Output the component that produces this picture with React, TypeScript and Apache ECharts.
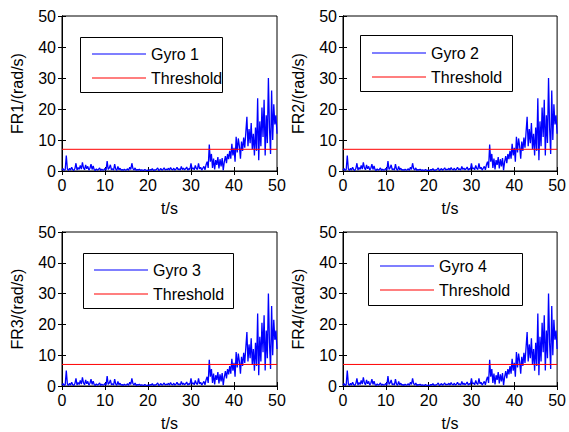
import React, { useEffect, useRef } from "react";
import * as echarts from "echarts";

const TIME_STEP = 0.25;
const thresholdValue = 7;
const yAxisNames = ["FR1/(rad/s)", "FR2/(rad/s)", "FR3/(rad/s)", "FR4/(rad/s)"];
const gyroNames = ["Gyro 1", "Gyro 2", "Gyro 3", "Gyro 4"];
const xAxisName = "t/s";

// gyro response, sampled every 0.25 s from 0 to 50 s
const gyroValues = [
  0.3, 0.8, 0.2, 0.5, 5.0, 0.6, 0.2, 0.9, 0.3, 1.2, 0.4, 0.2, 0.8, 2.5, 0.3, 1.1, 0.5, 1.8, 0.6, 2.8,
  1.0, 0.4, 2.0, 0.7, 1.5, 0.3, 0.9, 2.2, 0.5, 1.6, 0.4, 0.2, 0.7, 0.3, 0.5, 1.0, 0.2, 0.6, 0.3, 0.4,
  0.8, 0.3, 3.2, 0.5, 1.0, 2.0, 0.4, 0.7, 0.3, 2.2, 0.6, 0.2, 1.5, 0.4, 0.9, 0.3, 0.5, 0.2, 0.6, 0.3,
  0.4, 0.7, 0.2, 1.2, 0.5, 2.5, 0.8, 0.3, 1.0, 0.2, 0.5, 0.3, 0.6, 0.2, 0.4, 0.3, 0.2, 0.5, 0.3, 0.2,
  0.3, 0.2, 0.5, 0.3, 0.8, 0.2, 0.4, 0.3, 0.6, 1.0, 0.2, 0.4, 0.8, 0.3, 0.5, 1.0, 0.3, 0.6, 0.4, 0.9,
  0.3, 1.1, 0.5, 0.4, 0.9, 0.3, 0.6, 1.2, 0.4, 0.7, 0.3, 1.5, 0.5, 0.9, 0.4, 0.7, 1.3, 0.3, 0.8, 0.5,
  2.5, 0.6, 1.0, 0.4, 1.8, 0.8, 0.5, 2.5, 0.7, 1.2, 0.3, 0.9, 1.5, 0.4, 2.0, 3.0, 1.0, 8.5, 3.0, 5.5,
  1.0, 4.0, 0.5, 3.5, 2.0, 4.5, 0.8, 3.8, 1.5, 4.2, 0.3, 3.0, 4.8, 2.5, 5.5, 3.8, 6.5, 4.0, 8.8, 5.0,
  7.5, 3.0, 11.0, 6.0, 10.5, 8.0, 4.0, 9.5, 6.5, 10.8, 7.5, 12.5, 17.5, 8.0, 13.5, 9.0, 15.5, 7.0, 12.0, 5.0,
  14.0, 6.5, 23.5, 3.5, 16.0, 8.0, 20.5, 11.0, 23.0, 5.0, 18.0, 9.0, 30.0, 14.0, 5.5, 26.0, 10.0, 21.5, 15.0, 18.0,
  12.0,
];

const X_MIN = 0;
const X_MAX = 50;
const Y_MIN = 0;
const Y_MAX = 50;
const TICK_STEP = 10;

const FONT = "Liberation Sans, Arial, sans-serif";

// layout of the four panels
const panels = [
  { left: 62, top: 16, legendBox: [80, 37, 142, 55], legendLeft: 92, legendTop: 46 },
  { left: 343, top: 16, legendBox: [360, 35, 152, 56], legendLeft: 372, legendTop: 45 },
  { left: 62, top: 232, legendBox: [83, 253, 150, 55], legendLeft: 94, legendTop: 262 },
  { left: 343, top: 232, legendBox: [368, 253, 154, 52], legendLeft: 380, legendTop: 258 },
];
const PW = 215;
const PH = 155;

export default function App() {
  const ref = useRef<HTMLDivElement>(null);
  useEffect(() => {
    const chart = echarts.init(ref.current!, null, { renderer: "svg" });
    const gyroData = gyroValues.map((v, i) => [i * TIME_STEP, v]);
    const grids: any[] = [];
    const xAxes: any[] = [];
    const yAxes: any[] = [];
    const series: any[] = [];
    const legends: any[] = [];
    const graphics: any[] = [];
    panels.forEach((p, k) => {
      grids.push({
        left: p.left,
        top: p.top,
        width: PW,
        height: PH,
        show: true,
        borderColor: "#000",
        borderWidth: 1,
        backgroundColor: "#fff",
      });
      const common = {
        type: "value",
        gridIndex: k,
        interval: TICK_STEP,
        axisTick: { show: true, inside: true, length: 4, lineStyle: { color: "#000" } },
        axisLine: { show: true, lineStyle: { color: "#000", width: 1 } },
        splitLine: { show: false },
      };
      xAxes.push({
        ...common,
        min: X_MIN,
        max: X_MAX,
        position: "bottom",
        name: xAxisName,
        nameLocation: "middle",
        nameGap: 29,
        nameTextStyle: { color: "#000", fontFamily: FONT, fontSize: 16 },
        axisLabel: { color: "#000", fontFamily: FONT, fontSize: 16, margin: 6 },
      });
      xAxes.push({
        ...common,
        min: X_MIN,
        max: X_MAX,
        position: "top",
        axisLabel: { show: false },
      });
      yAxes.push({
        ...common,
        min: Y_MIN,
        max: Y_MAX,
        position: "left",
        name: yAxisNames[k],
        nameLocation: "middle",
        nameGap: 37,
        nameRotate: 90,
        nameTextStyle: { color: "#000", fontFamily: FONT, fontSize: 16 },
        axisLabel: { color: "#000", fontFamily: FONT, fontSize: 16, margin: 6 },
      });
      yAxes.push({
        ...common,
        min: Y_MIN,
        max: Y_MAX,
        position: "right",
        axisLabel: { show: false },
      });
      series.push({
        type: "line",
        name: gyroNames[k],
        xAxisIndex: k * 2,
        yAxisIndex: k * 2,
        data: gyroData,
        symbol: "none",
        lineStyle: { color: "#0000ff", width: 1.3 },
        itemStyle: { color: "#0000ff" },
        z: 2,
      });
      series.push({
        type: "line",
        name: "Threshold",
        xAxisIndex: k * 2,
        yAxisIndex: k * 2,
        data: [
          [X_MIN, thresholdValue],
          [X_MAX, thresholdValue],
        ],
        symbol: "none",
        lineStyle: { color: "#ff0000", width: 1 },
        itemStyle: { color: "#ff0000" },
        z: 3,
      });
      const [bx, by, bw, bh] = p.legendBox;
      graphics.push({
        type: "rect",
        shape: { x: bx + 0.5, y: by + 0.5, width: bw, height: bh },
        style: { fill: "#fff", stroke: "#000", lineWidth: 1 },
        z: 10,
      });
      legends.push({
        show: true,
        orient: "vertical",
        left: p.legendLeft,
        top: p.legendTop,
        padding: 0,
        itemGap: 8,
        itemWidth: 54,
        itemHeight: 1,
        icon: "rect",
        data: [gyroNames[k], "Threshold"],
        selectedMode: false,
        textStyle: { color: "#000", fontFamily: FONT, fontSize: 16, lineHeight: 16 },
        z: 20,
        zlevel: 0,
      });
    });
    chart.setOption({
      animation: false,
      backgroundColor: "#fff",
      grid: grids,
      xAxis: xAxes,
      yAxis: yAxes,
      series,
      legend: legends,
      graphic: { elements: graphics },
    });
    return () => chart.dispose();
  }, []);
  return (
    <div
      ref={ref}
      style={{ position: "fixed", left: 0, top: 0, width: 569, height: 432, background: "#fff" }}
    />
  );
}
